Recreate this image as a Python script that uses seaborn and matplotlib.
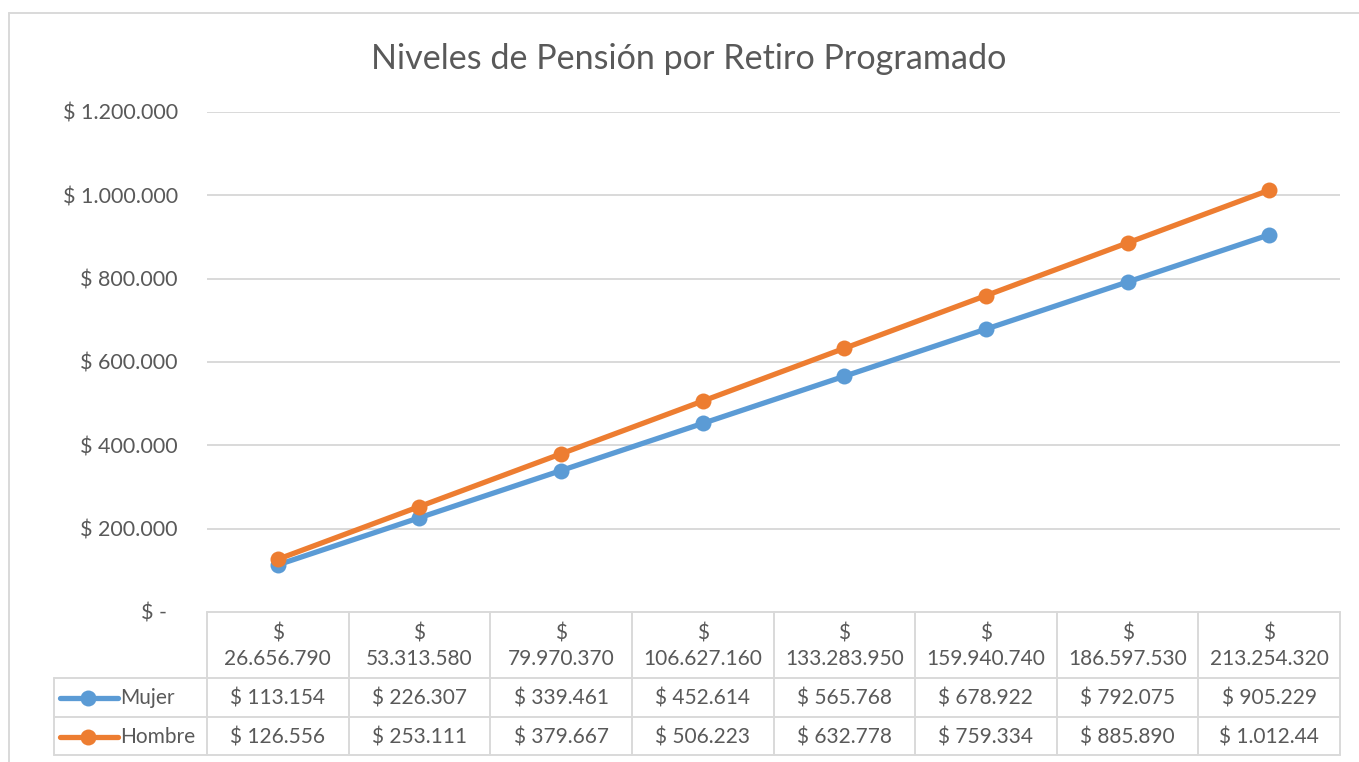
import matplotlib
matplotlib.use("Agg")
import matplotlib.pyplot as plt
import seaborn as sns
import pandas as pd
import numpy as np

# ---------------- data ----------------
capital_labels = ["$\n26.656.790", "$\n53.313.580", "$\n79.970.370", "$\n106.627.160",
                  "$\n133.283.950", "$\n159.940.740", "$\n186.597.530", "$\n213.254.320"]
mujer = [113154, 226307, 339461, 452614, 565768, 678922, 792075, 905229]
hombre = [126556, 253111, 379667, 506223, 632778, 759334, 885890, 1012445]
mujer_txt = ["$ 113.154", "$ 226.307", "$ 339.461", "$ 452.614",
             "$ 565.768", "$ 678.922", "$ 792.075", "$ 905.229"]
hombre_txt = ["$ 126.556", "$ 253.111", "$ 379.667", "$ 506.223",
              "$ 632.778", "$ 759.334", "$ 885.890", "$ 1.012.44"]
series_names = ["Mujer", "Hombre"]
y_ticks = [0, 200000, 400000, 600000, 800000, 1000000, 1200000]
y_tick_labels = ["$ -  ", "$ 200.000", "$ 400.000", "$ 600.000",
                 "$ 800.000", "$ 1.000.000", "$ 1.200.000"]
title = "Niveles de Pensión por Retiro Programado"

colors = {"Mujer": "#5B9BD5", "Hombre": "#ED7D31"}
TXT = "#595959"
GRID = "#D9D9D9"

sns.set_theme(style="white")
plt.rcParams["font.family"] = ["Lato", "DejaVu Sans"]
plt.rcParams["text.parse_math"] = False

W, H = 1359, 762
fig = plt.figure(figsize=(W / 100, H / 100), dpi=100)

def fx(px):
    return px / W

def fy(py):
    return 1 - py / H

# main plot axes: x 207..1340, y 112..612
ax = fig.add_axes([fx(207), fy(612), fx(1340) - fx(207), fy(112) - fy(612)])

n = len(mujer)
df = pd.DataFrame({
    "pos": list(range(n)) * 2,
    "valor": mujer + hombre,
    "serie": ["Mujer"] * n + ["Hombre"] * n,
})
sns.lineplot(data=df, x="pos", y="valor", hue="serie", palette=colors,
             hue_order=series_names, marker="o", markersize=11.5, linewidth=3.8,
             markeredgewidth=0, legend=False, ax=ax, zorder=3)

ax.set_xlim(-0.5, n - 0.5)
ax.set_ylim(0, 1200000)
ax.set_yticks(y_ticks)
ax.set_yticklabels(y_tick_labels, color=TXT, fontsize=15.5)
ax.set_xticks([])
ax.set_xlabel("")
ax.set_ylabel("")
ax.tick_params(axis="y", length=0, pad=21)
for v in y_ticks[1:]:
    ax.axhline(v, color=GRID, lw=1.4, zorder=1)
for s in ax.spines.values():
    s.set_visible(False)

# title
fig.text(fx(689), fy(59), title, ha="center", va="center", fontsize=24.6, color=TXT)

# outer frame (left and top edges visible)
fig.add_artist(plt.Line2D([fx(9), fx(9)], [fy(13), 0], color=GRID, lw=1.4))
fig.add_artist(plt.Line2D([fx(9), 1], [fy(13), fy(13)], color=GRID, lw=1.4))

# data table axes, same x scale as main axes
cellw = (1340 - 207) / n
x_left = -0.5 - (207 - 54) / cellw
tax = fig.add_axes([fx(54), fy(755), fx(1340) - fx(54), fy(612) - fy(755)])
tax.set_xlim(x_left, n - 0.5)
tax.set_ylim(755, 612)
tax.axis("off")

lc = dict(color=GRID, lw=1.4, clip_on=False)
tax.plot([-0.5, n - 0.5], [612, 612], **lc)
for yy in (678, 717, 755):
    tax.plot([x_left, n - 0.5], [yy, yy], **lc)
for i in range(n + 1):
    tax.plot([i - 0.5, i - 0.5], [612, 755], **lc)
tax.plot([x_left, x_left], [678, 755], **lc)

for i in range(n):
    tax.text(i, 646.5, capital_labels[i], ha="center", va="center", fontsize=15,
             color=TXT, linespacing=1.35)
    tax.text(i, 698.5, mujer_txt[i], ha="center", va="center", fontsize=15, color=TXT)
    tax.text(i, 737, hombre_txt[i], ha="center", va="center", fontsize=15, color=TXT)

# legend keys inside the table
for name, yy in zip(series_names, (698, 736.5)):
    x0 = x_left + (60 - 54) / cellw
    x1 = x_left + (118 - 54) / cellw
    xm = x_left + (88 - 54) / cellw
    tax.plot([x0, x1], [yy, yy], color=colors[name], lw=3.8, solid_capstyle="round")
    tax.plot([xm], [yy], marker="o", markersize=11.5, color=colors[name], mew=0)
    tax.text(x_left + (120 - 54) / cellw, yy + 0.5, name, ha="left", va="center",
             fontsize=15, color=TXT)

fig.savefig("out.png", dpi=100, facecolor="white")
